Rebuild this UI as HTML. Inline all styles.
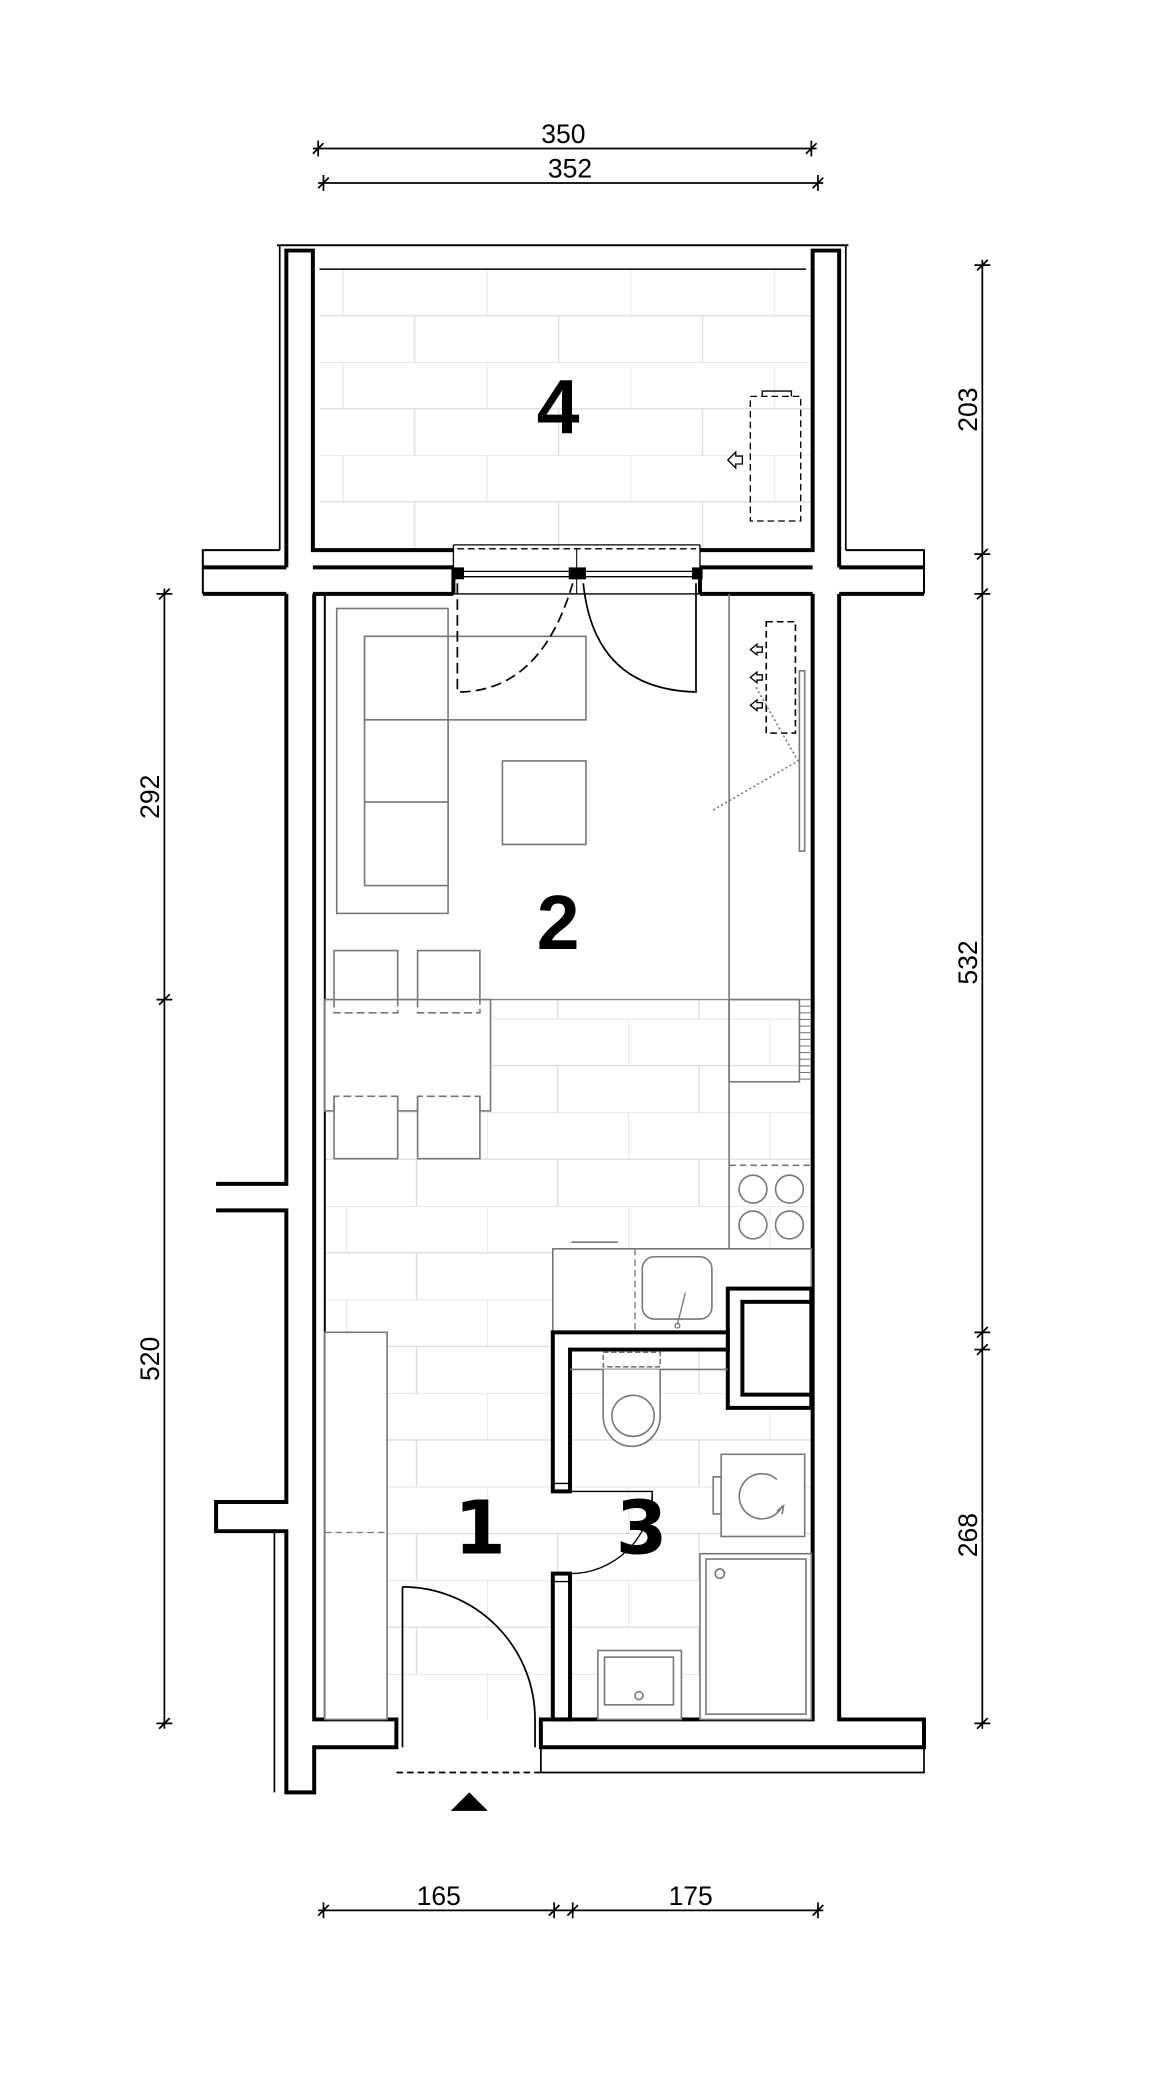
<!DOCTYPE html>
<html><head><meta charset="utf-8"><style>
html,body{margin:0;padding:0;background:#fff;}
svg{display:block;}
.t{font-family:"Liberation Sans Narrow","Liberation Sans",sans-serif;fill:#000;}
</style></head><body>
<svg width="1156" height="2084" viewBox="0 0 872 1572" xmlns="http://www.w3.org/2000/svg">
<defs>
<pattern id="tb" patternUnits="userSpaceOnUse" x="258.6" y="203" width="108.5" height="70.2">
<g stroke="#dcdcdc" stroke-width="1" fill="none">
<line x1="0" y1="0" x2="108.5" y2="0"/><line x1="0" y1="35.1" x2="108.5" y2="35.1"/>
<line x1="0" y1="0" x2="0" y2="35.1"/><line x1="54.25" y1="35.1" x2="54.25" y2="70.2"/></g></pattern>
<pattern id="ti" patternUnits="userSpaceOnUse" x="261" y="768.5" width="106.5" height="70.6">
<g stroke="#dcdcdc" stroke-width="1" fill="none">
<line x1="0" y1="0" x2="106.5" y2="0"/><line x1="0" y1="35.3" x2="106.5" y2="35.3"/>
<line x1="0" y1="0" x2="0" y2="35.3"/><line x1="53.25" y1="35.3" x2="53.25" y2="70.6"/></g></pattern>
</defs>
<rect width="872" height="1572" fill="#fff"/>

<rect x="241" y="203" width="371" height="212" fill="url(#tb)"/>
<rect x="245" y="754" width="367" height="543" fill="url(#ti)"/>
<line x1="245" y1="754" x2="612" y2="754" stroke="#888" stroke-width="1"/>

<g stroke="#000" stroke-width="1.3" fill="none">
<line x1="236" y1="112" x2="616" y2="112"/>
<line x1="240" y1="106" x2="240" y2="118"/><line x1="236" y1="116" x2="244" y2="108"/>
<line x1="612" y1="106" x2="612" y2="118"/><line x1="608" y1="116" x2="616" y2="108"/>
<line x1="240" y1="138" x2="621" y2="138"/>
<line x1="244" y1="132" x2="244" y2="144"/><line x1="240" y1="142" x2="248" y2="134"/>
<line x1="617" y1="132" x2="617" y2="144"/><line x1="613" y1="142" x2="621" y2="134"/>
<line x1="741" y1="196" x2="741" y2="1304"/>
<line x1="735" y1="200" x2="747" y2="200"/><line x1="737" y1="204" x2="745" y2="196"/>
<line x1="735" y1="418" x2="747" y2="418"/><line x1="737" y1="422" x2="745" y2="414"/>
<line x1="735" y1="448" x2="747" y2="448"/><line x1="737" y1="452" x2="745" y2="444"/>
<line x1="735" y1="1005" x2="747" y2="1005"/><line x1="737" y1="1009" x2="745" y2="1001"/>
<line x1="735" y1="1018" x2="747" y2="1018"/><line x1="737" y1="1022" x2="745" y2="1014"/>
<line x1="735" y1="1300" x2="747" y2="1300"/><line x1="737" y1="1304" x2="745" y2="1296"/>
<line x1="124" y1="444" x2="124" y2="1304"/>
<line x1="118" y1="448" x2="130" y2="448"/><line x1="120" y1="452" x2="128" y2="444"/>
<line x1="118" y1="754" x2="130" y2="754"/><line x1="120" y1="758" x2="128" y2="750"/>
<line x1="118" y1="1300" x2="130" y2="1300"/><line x1="120" y1="1304" x2="128" y2="1296"/>
<line x1="240" y1="1441" x2="621" y2="1441"/>
<line x1="244" y1="1435" x2="244" y2="1447"/><line x1="240" y1="1445" x2="248" y2="1437"/>
<line x1="418" y1="1435" x2="418" y2="1447"/><line x1="414" y1="1445" x2="422" y2="1437"/>
<line x1="432" y1="1435" x2="432" y2="1447"/><line x1="428" y1="1445" x2="436" y2="1437"/>
<line x1="617" y1="1435" x2="617" y2="1447"/><line x1="613" y1="1445" x2="621" y2="1437"/>
</g>
<g class="t" font-size="20" text-anchor="middle">
<text x="425" y="108">350</text>
<text x="430" y="134">352</text>
<text x="331" y="1437">165</text>
<text x="521" y="1437">175</text>
<text transform="translate(737,309) rotate(-90)">203</text>
<text transform="translate(737,726) rotate(-90)">532</text>
<text transform="translate(737,1158) rotate(-90)">268</text>
<text transform="translate(120,601) rotate(-90)">292</text>
<text transform="translate(120,1025) rotate(-90)">520</text>
</g>

<g stroke="#000" fill="none">
<line x1="209" y1="185" x2="640" y2="185" stroke-width="1.5"/>
<line x1="241" y1="203" x2="608" y2="203" stroke-width="1.2"/>
<polyline points="211,415 211,185" stroke-width="1.3"/>
<polyline points="638,415 638,185" stroke-width="1.3"/>
<polyline points="216,428 216,189 236,189 236,415 342,415" stroke-width="3"/>
<polyline points="633,428 633,189 613,189 613,415 528,415" stroke-width="3"/>
<polyline points="211,415 153,415 153,448" stroke-width="1.5"/>
<polyline points="638,415 697,415 697,448" stroke-width="1.5"/>
<line x1="153" y1="428" x2="216" y2="428" stroke-width="3"/>
<line x1="236" y1="428" x2="342" y2="428" stroke-width="3"/>
<line x1="528" y1="428" x2="613" y2="428" stroke-width="3"/>
<line x1="633" y1="428" x2="697" y2="428" stroke-width="3"/>
<line x1="153" y1="448" x2="216" y2="448" stroke-width="3"/>
<line x1="633" y1="448" x2="697" y2="448" stroke-width="3"/>
<line x1="236" y1="448" x2="342" y2="448" stroke-width="3"/>
<line x1="528" y1="448" x2="613" y2="448" stroke-width="3"/>
<line x1="342" y1="428" x2="342" y2="448" stroke-width="3"/>
<line x1="528" y1="428" x2="528" y2="448" stroke-width="3"/>
<line x1="342" y1="411" x2="528" y2="411" stroke-width="1"/>
<line x1="342" y1="411" x2="342" y2="428" stroke-width="1"/>
<line x1="528" y1="411" x2="528" y2="428" stroke-width="1"/>
<line x1="345" y1="414" x2="525" y2="414" stroke-width="1" stroke-dasharray="5,3"/>
<line x1="435" y1="414" x2="435" y2="448" stroke-width="0.8"/>
<line x1="342" y1="431" x2="528" y2="431" stroke-width="1"/>
<line x1="342" y1="435" x2="528" y2="435" stroke-width="1"/>
<line x1="342" y1="448" x2="528" y2="448" stroke-width="1"/>
</g>
<g fill="#000"><rect x="342" y="428" width="8" height="9"/><rect x="429" y="428" width="13" height="9"/><rect x="522" y="428" width="8" height="9"/></g>
<g stroke="#000" stroke-width="1" fill="none">
<rect x="566" y="299" width="38" height="94" stroke-dasharray="5,3"/>
<polyline points="575,299 575,295 597,295 597,299"/>
<path d="M549,347 l6,-6 v3 h5 v6 h-5 v3 z"/>
</g>
<text class="t" x="421" y="327" font-size="58" text-anchor="middle" font-weight="bold" font-family="DejaVu Sans, sans-serif">4</text>

<g stroke="#000" stroke-width="3" fill="none">
<polyline points="216,448 216,893 163,893"/>
<polyline points="163,913 216,913 216,1133 163,1133 163,1155 216,1155 216,1352 237,1352 237,1318 299,1318 299,1297 237,1297 237,448"/>
<line x1="207" y1="1155" x2="207" y2="1352" stroke-width="1.3"/>
<line x1="245" y1="448" x2="245" y2="1297" stroke-width="1.5"/>
<polyline points="613,448 613,1297 408,1297 408,1318 697,1318 697,1297 633,1297 633,448"/>
</g>
<g stroke="#000" fill="none" stroke-width="1.3">
<polyline points="408,1318 408,1337 697,1337 697,1318"/>
<line x1="299" y1="1337" x2="408" y2="1337" stroke-dasharray="5,3"/>
<line x1="303.6" y1="1197" x2="303.6" y2="1318"/>
<path d="M303.6,1197 A100,100 0 0 1 403.6,1297 L403.6,1318"/>
</g>
<polygon points="354,1352 340,1366 368,1366" fill="#000"/>

<g stroke="#777" stroke-width="1.2" fill="#fff">
<rect x="254" y="459" width="84" height="230"/>
<rect x="275" y="480" width="167" height="63"/>
<rect x="275" y="480" width="63" height="188"/>
<line x1="275" y1="543" x2="338" y2="543"/><line x1="275" y1="605" x2="338" y2="605"/>
<rect x="379" y="574" width="63" height="63"/>
<path d="M252,764 V717 H300 V764 M315,764 V717 H362 V764"/>
<rect x="245" y="754" width="125" height="84"/>
<path d="M252,827 V874 H300 V827 M315,827 V874 H362 V827"/>
</g>
<g stroke="#777" stroke-width="1.2" fill="none" stroke-dasharray="6,3">
<path d="M252,754 V764 H300 V754 M315,754 V764 H362 V754"/>
<path d="M252,838 V827 H300 V838 M315,838 V827 H362 V838"/>
</g>
<g stroke="#000" stroke-width="1.3" fill="none">
<path d="M345,440 V522 Q408,522 432,440" stroke-dasharray="8,4"/>
<path d="M525,440 V522 Q448,520 440,440"/>
</g>
<g stroke="#777" stroke-width="1.2" fill="none">
<line x1="550" y1="448" x2="550" y2="942"/>
<rect x="550" y="754" width="53" height="62"/>
<line x1="550" y1="879" x2="612" y2="879" stroke-dasharray="5,3"/>
<circle cx="568" cy="897" r="10.5"/><circle cx="595.5" cy="897" r="10.5"/>
<circle cx="568" cy="924" r="10.5"/><circle cx="595.5" cy="924" r="10.5"/>
<rect x="578" y="469" width="22" height="84" stroke="#000" stroke-dasharray="5,3"/>
<rect x="603" y="506" width="4" height="136"/>
<polyline points="538,611 602,574 570,518" stroke-dasharray="1.5,2"/>
</g>
<g stroke="#777" stroke-width="0.8">
<line x1="603" y1="759" x2="612" y2="759"/><line x1="603" y1="764" x2="612" y2="764"/><line x1="603" y1="769" x2="612" y2="769"/><line x1="603" y1="774" x2="612" y2="774"/><line x1="603" y1="779" x2="612" y2="779"/><line x1="603" y1="784" x2="612" y2="784"/><line x1="603" y1="789" x2="612" y2="789"/><line x1="603" y1="794" x2="612" y2="794"/><line x1="603" y1="799" x2="612" y2="799"/><line x1="603" y1="804" x2="612" y2="804"/><line x1="603" y1="809" x2="612" y2="809"/><line x1="603" y1="814" x2="612" y2="814"/>
</g>
<g stroke="#000" stroke-width="1" fill="#fff">
<path d="M566,490 l5,-4 v2 h4 v4 h-4 v2 z"/><path d="M566,511 l5,-4 v2 h4 v4 h-4 v2 z"/><path d="M566,532 l5,-4 v2 h4 v4 h-4 v2 z"/>
</g>
<text class="t" x="421" y="716" font-size="58" text-anchor="middle" font-weight="bold" font-family="DejaVu Sans, sans-serif">2</text>

<g stroke="#777" stroke-width="1.2" fill="#fff">
<rect x="417" y="942" width="195" height="63"/>
<rect x="484.5" y="948" width="52.5" height="47" rx="9"/>
<line x1="431" y1="937" x2="466" y2="937"/>
</g>
<line x1="479" y1="942" x2="479" y2="1005" stroke="#777" stroke-dasharray="5,3"/>
<line x1="550" y1="942" x2="612" y2="942" stroke="#777" stroke-dasharray="5,3"/>
<line x1="517" y1="975" x2="511" y2="999" stroke="#777"/><circle cx="511" cy="1000" r="1.8" fill="none" stroke="#777"/>
<rect x="245" y="1005" width="47" height="292" fill="#fff" stroke="#777" stroke-width="1.2"/>
<line x1="245" y1="1156" x2="292" y2="1156" stroke="#777" stroke-dasharray="5,3"/>

<g stroke="#000" stroke-width="3" fill="#fff">
<rect x="549" y="972" width="63" height="90"/>
<polygon points="417,1005 549,1005 549,1018 430,1018 430,1125 417,1125"/>
<rect x="417" y="1187" width="13" height="110"/>
</g>
<rect x="560" y="982" width="52" height="70" fill="#fff" stroke="#000" stroke-width="3"/>
<g stroke="#000" stroke-width="1" fill="none">
<line x1="417" y1="1119" x2="430" y2="1119"/><line x1="417" y1="1193" x2="430" y2="1193"/>
<polyline points="430,1125 492,1125 492,1133"/>
<path d="M492,1125 A62,62 0 0 1 430,1187"/>
</g>
<g stroke="#777" stroke-width="1.2" fill="#fff">
<rect x="455" y="1020" width="43" height="11" stroke-dasharray="4,2"/>
<line x1="430" y1="1033" x2="549" y2="1033"/>
<path d="M455,1033 V1068 A21.5,23 0 0 0 498,1068 V1033"/>
<ellipse cx="477.5" cy="1068" rx="16" ry="15.5"/>
<rect x="538" y="1114" width="6" height="28"/>
<rect x="544" y="1097" width="63" height="62"/>
<path d="M586,1116 A17,17 0 1 0 590,1136" fill="none"/>
<path d="M586,1140 l5,-4 l-1,6" fill="none"/>
<rect x="528" y="1172" width="84" height="125"/>
<rect x="532.5" y="1176" width="75.5" height="117"/>
<circle cx="543" cy="1187" r="3.5"/>
<rect x="451" y="1245" width="63" height="52"/>
<rect x="456" y="1250" width="52" height="36"/>
<circle cx="482" cy="1279" r="3"/>
</g>
<g font-family="DejaVu Sans, sans-serif" font-weight="bold" font-size="56" text-anchor="middle" fill="#000">
<text x="362" y="1172">1</text>
<text x="484" y="1172">3</text>
</g>
</svg>
</body></html>
